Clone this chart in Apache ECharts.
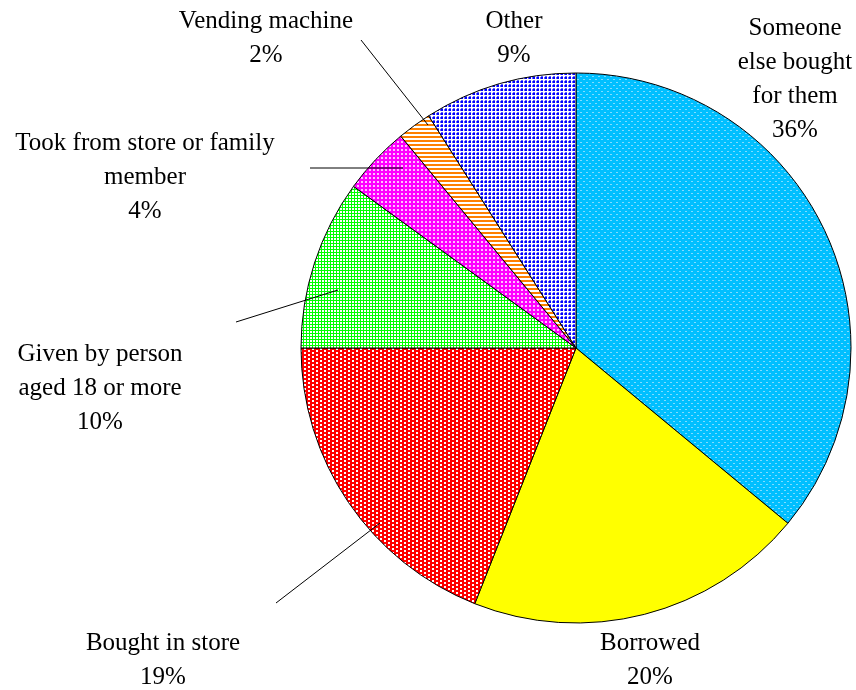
<!DOCTYPE html>
<html>
<head>
<meta charset="utf-8">
<script src="https://cdn.jsdelivr.net/npm/echarts@6/dist/echarts.min.js"></script>
<style>
  html, body { margin: 0; padding: 0; background: #fff; }
  #chart { width: 856px; height: 690px; }
</style>
</head>
<body>
<div id="chart"></div>
<script>
const categories = [
  'Someone\nelse bought\nfor them',
  'Borrowed',
  'Bought in store',
  'Given by person\naged 18 or more',
  'Took from store or family\nmember',
  'Vending machine',
  'Other'
];
const percents = [36, 20, 19, 10, 4, 2, 9];

// 标签位置（像素），和引导线
const labelSpots = [
  { x: 795, y: 79 },
  { x: 650, y: 660 },
  { x: 163, y: 660, line: [[276, 603], [380, 523]] },
  { x: 100, y: 388, line: [[236, 322], [338, 290]] },
  { x: 145, y: 177, line: [[310, 168], [403, 168]] },
  { x: 266, y: 38, line: [[361, 40], [428, 125]] },
  { x: 514, y: 38 }
];

// 小图案填充
function makeTile(w, h, bg, fg, cells) {
  const c = document.createElement('canvas');
  c.width = w; c.height = h;
  const ctx = c.getContext('2d');
  ctx.fillStyle = bg;
  ctx.fillRect(0, 0, w, h);
  cells.forEach(([x, y, cw, ch, col]) => {
    ctx.fillStyle = col || fg;
    ctx.fillRect(x, y, cw || 1, ch || 1);
  });
  return { image: c, repeat: 'repeat' };
}

const fills = [
  makeTile(6, 6, '#00bfff', '#7fdcff', [[1, 1, 2, 1], [4, 4, 2, 1]]),
  '#ffff00',
  makeTile(8, 4, '#ff0000', '#ffffff', [[0, 0, 2, 2], [4, 2, 2, 2]]),
  makeTile(3, 3, '#ffffff', '#00ff00', [[0, 0, 3, 1], [0, 0, 1, 3]]),
  makeTile(4, 4, '#ff00ff', '#ffc0ff', [[1, 1, 2, 2]]),
  makeTile(4, 4, '#ffffff', '#ff8000', [[0, 0, 4, 2]]),
  makeTile(4, 4, '#ffffff', '#0000ff', [[1, 1, 2, 2], [1, 0, 2, 1, '#6060ff'], [0, 1, 1, 2, '#6060ff']])
];

const pieBase = {
  type: 'pie',
  center: [576, 348],
  radius: 275,
  startAngle: 90,
  clockwise: true,
  avoidLabelOverlap: false,
  silent: true
};

const layoutFn = params => {
  const s = labelSpots[params.dataIndex];
  const res = { x: s.x, y: s.y, align: 'center', verticalAlign: 'middle' };
  if (s.line) res.labelLinePoints = [s.line[0], s.line[0], s.line[1]];
  return res;
};

const chart = echarts.init(document.getElementById('chart'));

chart.setOption({
  animation: false,
  backgroundColor: '#ffffff',
  series: [
    Object.assign({}, pieBase, {
      z: 2,
      itemStyle: { borderColor: '#000', borderWidth: 1 },
      label: {
        show: true,
        position: 'outside',
        formatter: p => p.name + '\n' + p.value + '%',
        fontFamily: 'Liberation Serif',
        fontSize: 25,
        lineHeight: 34,
        color: '#000',
        align: 'center'
      },
      labelLine: { show: false },
      labelLayout: layoutFn,
      data: categories.map((name, i) => ({
        name: name,
        value: percents[i],
        itemStyle: { color: fills[i] }
      }))
    }),
    // 透明的上层饼，只画引导线（线要伸进扇区里）
    Object.assign({}, pieBase, {
      z: 5,
      itemStyle: { color: 'rgba(0,0,0,0)', borderWidth: 0 },
      label: {
        show: true,
        position: 'outside',
        formatter: () => ' ',
        fontSize: 1,
        color: 'rgba(0,0,0,0)'
      },
      labelLine: { show: true, lineStyle: { color: '#000', width: 1 } },
      labelLayout: layoutFn,
      data: categories.map((name, i) => ({
        name: name,
        value: percents[i],
        labelLine: { show: !!labelSpots[i].line }
      }))
    })
  ]
});
</script>
</body>
</html>
